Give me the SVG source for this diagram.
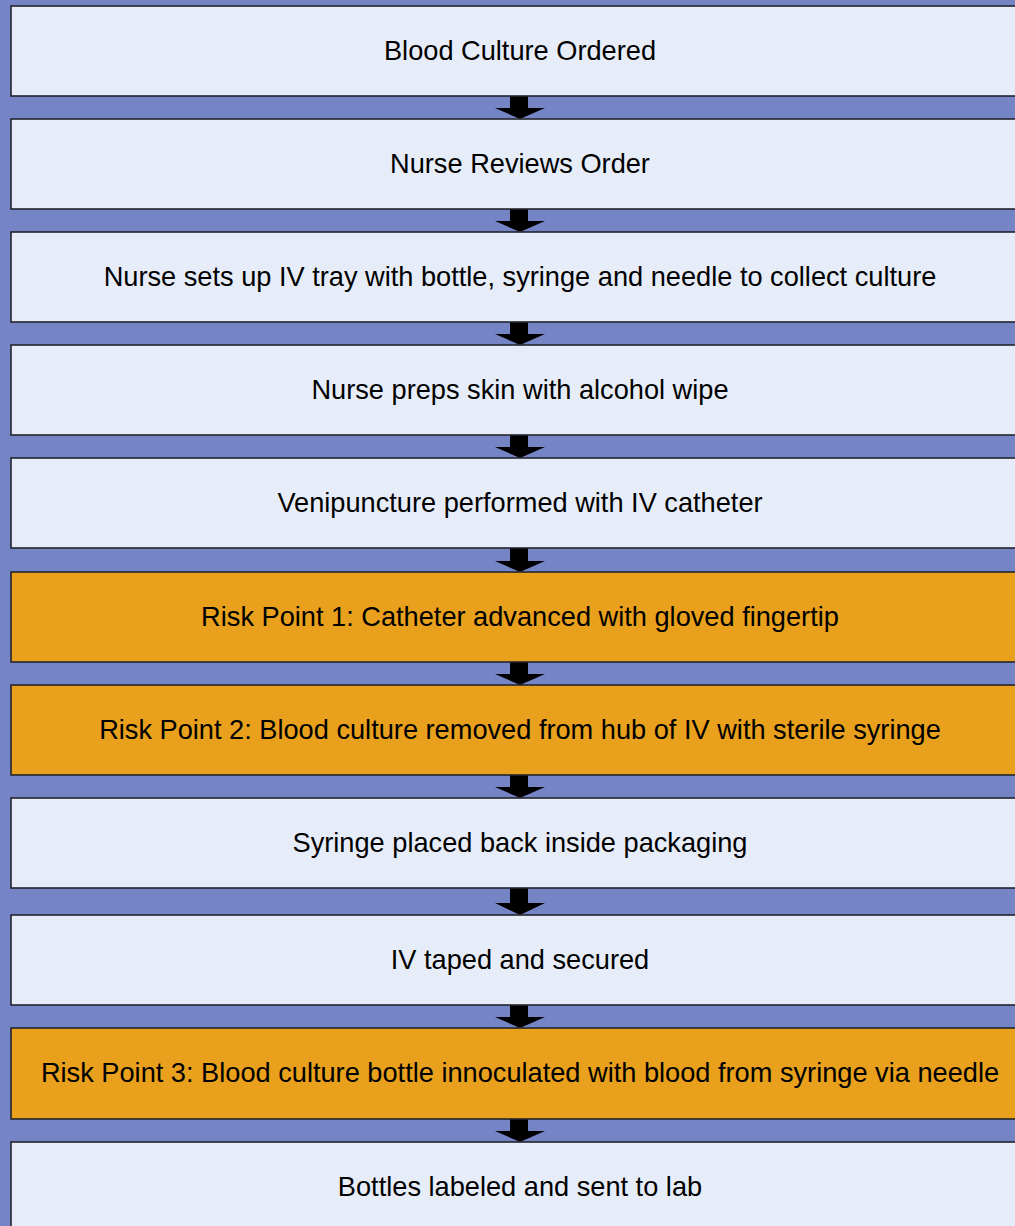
<svg xmlns="http://www.w3.org/2000/svg" width="1015" height="1226" viewBox="0 0 1015 1226">
<style>
.bg{fill:#7584c4}
.box{fill:#e7edf8;stroke:#23252e;stroke-width:1.6}
.risk{fill:#e8a01d;stroke:#23252e;stroke-width:1.6}
.t{font-family:"Liberation Sans",Arial,sans-serif;font-size:27.2px;fill:#000;text-anchor:middle}
.arr{fill:#000}
</style>
<rect class="bg" x="0" y="0" width="1015" height="1226"/>
<g id="connectors">
<path class="arr" d="M510,96 L528,96 L528,108 L545,108 L520,119 L495,108 L510,108 Z"/>
<path class="arr" d="M510,209 L528,209 L528,221 L545,221 L520,232 L495,221 L510,221 Z"/>
<path class="arr" d="M510,322 L528,322 L528,334 L545,334 L520,345 L495,334 L510,334 Z"/>
<path class="arr" d="M510,435 L528,435 L528,447 L545,447 L520,458 L495,447 L510,447 Z"/>
<path class="arr" d="M510,548 L528,548 L528,561 L545,561 L520,572 L495,561 L510,561 Z"/>
<path class="arr" d="M510,662 L528,662 L528,674 L545,674 L520,685 L495,674 L510,674 Z"/>
<path class="arr" d="M510,775 L528,775 L528,787 L545,787 L520,798 L495,787 L510,787 Z"/>
<path class="arr" d="M510,888 L528,888 L528,903 L545,903 L520,915 L495,903 L510,903 Z"/>
<path class="arr" d="M510,1005 L528,1005 L528,1017 L545,1017 L520,1028 L495,1017 L510,1017 Z"/>
<path class="arr" d="M510,1119 L528,1119 L528,1131 L545,1131 L520,1142 L495,1131 L510,1131 Z"/>
</g>
<g id="n1"><rect class="box" x="11" y="6" width="1020" height="90"/><text class="t" x="520" y="60">Blood Culture Ordered</text></g>
<g id="n2"><rect class="box" x="11" y="119" width="1020" height="90"/><text class="t" x="520" y="173">Nurse Reviews Order</text></g>
<g id="n3"><rect class="box" x="11" y="232" width="1020" height="90"/><text class="t" x="520" y="286">Nurse sets up IV tray with bottle, syringe and needle to collect culture</text></g>
<g id="n4"><rect class="box" x="11" y="345" width="1020" height="90"/><text class="t" x="520" y="399">Nurse preps skin with alcohol wipe</text></g>
<g id="n5"><rect class="box" x="11" y="458" width="1020" height="90"/><text class="t" x="520" y="512">Venipuncture performed with IV catheter</text></g>
<g id="n6"><rect class="risk" x="11" y="572" width="1020" height="90"/><text class="t" x="520" y="626">Risk Point 1: Catheter advanced with gloved fingertip</text></g>
<g id="n7"><rect class="risk" x="11" y="685" width="1020" height="90"/><text class="t" x="520" y="739">Risk Point 2: Blood culture removed from hub of IV with sterile syringe</text></g>
<g id="n8"><rect class="box" x="11" y="798" width="1020" height="90"/><text class="t" x="520" y="852">Syringe placed back inside packaging</text></g>
<g id="n9"><rect class="box" x="11" y="915" width="1020" height="90"/><text class="t" x="520" y="969">IV taped and secured</text></g>
<g id="n10"><rect class="risk" x="11" y="1028" width="1020" height="91"/><text class="t" x="520" y="1082">Risk Point 3: Blood culture bottle innoculated with blood from syringe via needle</text></g>
<g id="n11"><rect class="box" x="11" y="1142" width="1020" height="90"/><text class="t" x="520" y="1196">Bottles labeled and sent to lab</text></g>
</svg>
